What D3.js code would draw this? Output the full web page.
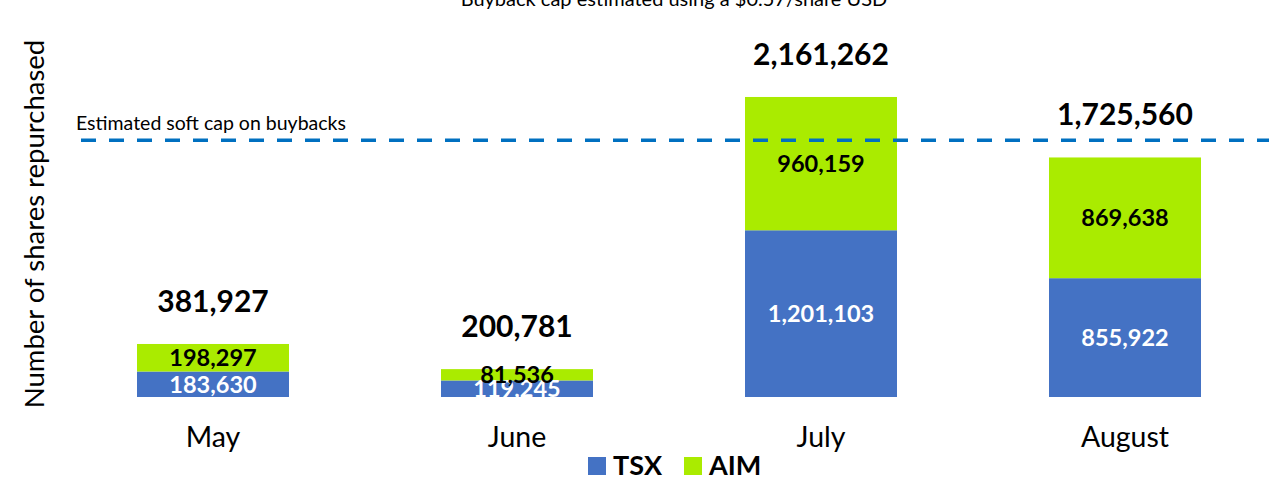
<!DOCTYPE html>
<html>
<head>
<meta charset="utf-8">
<script src="https://cdn.jsdelivr.net/npm/d3@7"></script>
<style>
  body { margin: 0; background: #fff; }
  svg { display: block; font-family: Lato, "Open Sans", sans-serif; }
</style>
</head>
<body>
<div id="chart"></div>
<script>
var width = 1269;
var height = 485;

var months = ["May", "June", "July", "August"];
var tsx = [183630, 119245, 1201103, 855922];
var aim = [198297, 81536, 960159, 869638];
var softCap = 1850000;
var seriesNames = ["TSX", "AIM"];

var colors = { TSX: "#4472C4", AIM: "#AAEB00" };

var rows = months.map((m, i) => ({ month: m, TSX: tsx[i], AIM: aim[i] }));
var stacked = d3.stack().keys(seriesNames)(rows);

var x = d3.scaleBand()
  .domain(months)
  .range([61, 1277])
  .paddingInner(0.5)
  .paddingOuter(0.25);

var y = d3.scaleLinear()
  .domain([0, 2200000])
  .range([397, 91.6]);

var fmt = d3.format(",");

var svg = d3.select("#chart").append("svg")
  .attr("width", width)
  .attr("height", height);

// title, cut off at top like the original
svg.append("text")
  .attr("x", 674)
  .attr("y", 6)
  .attr("text-anchor", "middle")
  .attr("font-size", 20)
  .attr("fill", "#000")
  .text("Buyback cap estimated using a $0.57/share USD");

// y axis label
svg.append("text")
  .attr("transform", "translate(44,224) rotate(-90)")
  .attr("text-anchor", "middle")
  .attr("font-size", 27.5)
  .attr("fill", "#000")
  .text("Number of shares repurchased");

// bars
var layer = svg.append("g").selectAll("g")
  .data(stacked)
  .enter().append("g")
  .attr("fill", d => colors[d.key]);

layer.selectAll("rect")
  .data(d => d)
  .enter().append("rect")
  .attr("x", d => x(d.data.month))
  .attr("y", d => y(d[1]))
  .attr("width", x.bandwidth())
  .attr("height", d => y(d[0]) - y(d[1]));

// segment labels
stacked.forEach(s => {
  svg.append("g").selectAll("text")
    .data(s)
    .enter().append("text")
    .attr("x", d => x(d.data.month) + x.bandwidth() / 2)
    .attr("y", d => (y(d[0]) + y(d[1])) / 2)
    .attr("dy", "0.36em")
    .attr("text-anchor", "middle")
    .attr("font-size", 23.5)
    .attr("font-weight", "bold")
    .attr("fill", s.key == "TSX" ? "#fff" : "#000")
    .text(d => fmt(d.data[s.key]));
});

// totals
svg.append("g").selectAll("text")
  .data(rows)
  .enter().append("text")
  .attr("x", d => x(d.month) + x.bandwidth() / 2)
  .attr("y", d => y(d.TSX + d.AIM) - 32)
  .attr("text-anchor", "middle")
  .attr("font-size", 30)
  .attr("font-weight", "bold")
  .attr("fill", "#000")
  .text(d => fmt(d.TSX + d.AIM));

// soft cap line
svg.append("line")
  .attr("x1", 81)
  .attr("x2", width)
  .attr("y1", y(softCap))
  .attr("y2", y(softCap))
  .attr("stroke", "#0070C0")
  .attr("stroke-width", 3.5)
  .attr("stroke-dasharray", "15,13");

svg.append("text")
  .attr("x", 76)
  .attr("y", y(softCap) - 10)
  .attr("font-size", 19.5)
  .attr("fill", "#000")
  .text("Estimated soft cap on buybacks");

// x axis labels
svg.append("g").selectAll("text")
  .data(months)
  .enter().append("text")
  .attr("x", d => x(d) + x.bandwidth() / 2)
  .attr("y", 447)
  .attr("text-anchor", "middle")
  .attr("font-size", 28.5)
  .attr("fill", "#000")
  .text(d => d);

// legend
var legend = svg.append("g").selectAll("g")
  .data(seriesNames)
  .enter().append("g")
  .attr("transform", (d, i) => "translate(" + (588 + i * 96) + ",457)");

legend.append("rect")
  .attr("width", 18)
  .attr("height", 18)
  .attr("fill", d => colors[d]);

legend.append("text")
  .attr("x", 25)
  .attr("y", 18)
  .attr("font-size", 27)
  .attr("font-weight", "bold")
  .attr("fill", "#000")
  .text(d => d);
</script>
</body>
</html>
